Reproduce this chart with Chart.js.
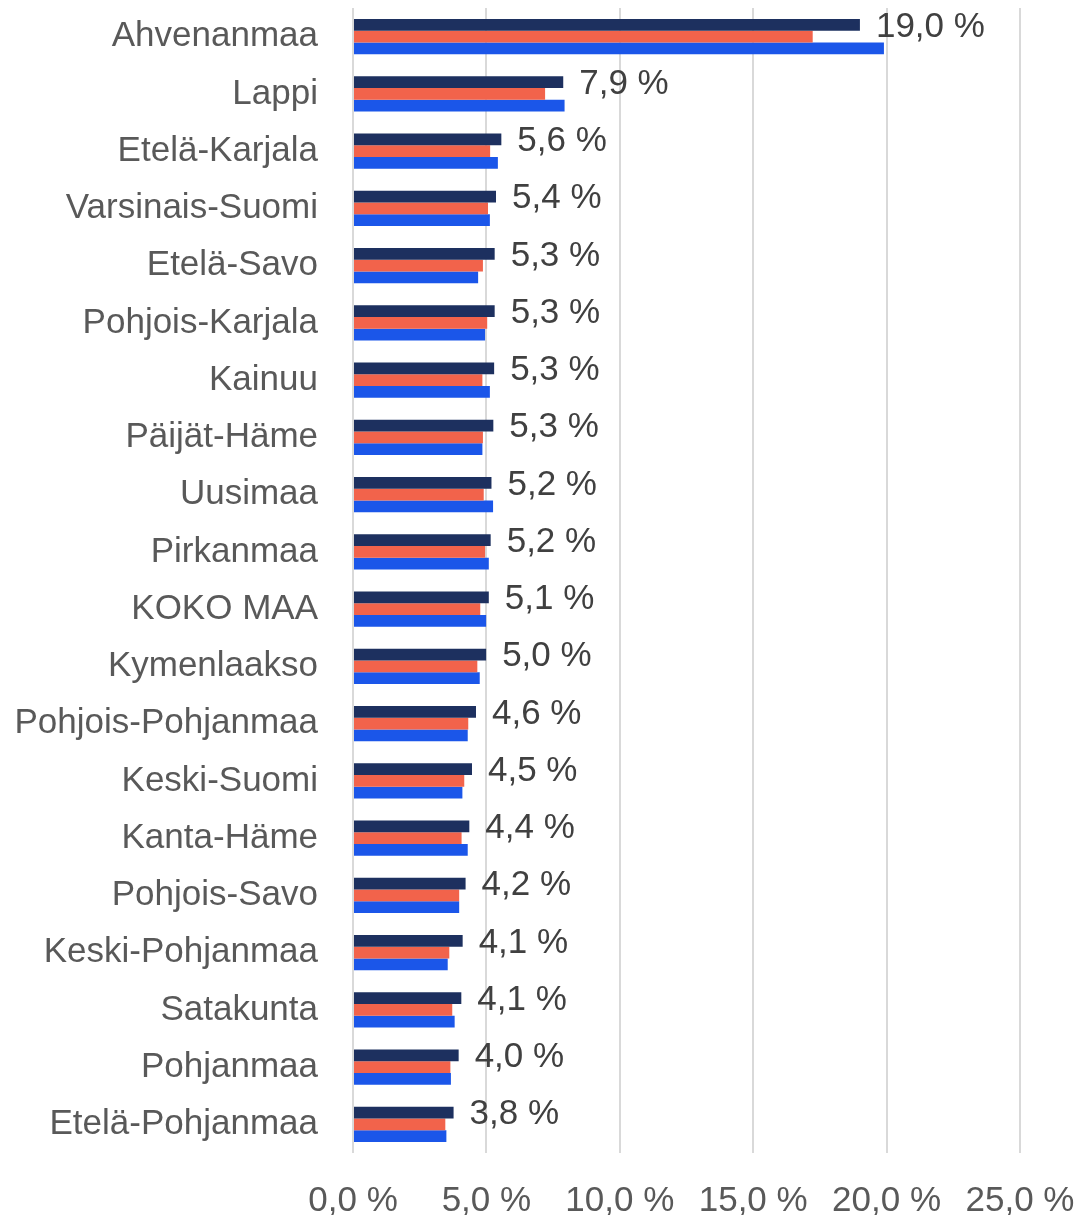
<!DOCTYPE html>
<html>
<head>
<meta charset="utf-8">
<script src="https://cdn.jsdelivr.net/npm/chart.js@4.4.1/dist/chart.umd.min.js"></script>
<style>
  html, body { margin: 0; padding: 0; background: #fff; }
  #wrap { width: 1081px; height: 1215px; }
</style>
</head>
<body>
<div id="wrap"><canvas id="barChart"></canvas></div>
<script>
// data
var regions = ['Ahvenanmaa', 'Lappi', 'Etelä-Karjala', 'Varsinais-Suomi', 'Etelä-Savo',
  'Pohjois-Karjala', 'Kainuu', 'Päijät-Häme', 'Uusimaa', 'Pirkanmaa', 'KOKO MAA',
  'Kymenlaakso', 'Pohjois-Pohjanmaa', 'Keski-Suomi', 'Kanta-Häme', 'Pohjois-Savo',
  'Keski-Pohjanmaa', 'Satakunta', 'Pohjanmaa', 'Etelä-Pohjanmaa'];
var series1 = [19.0, 7.88, 5.56, 5.36, 5.31, 5.31, 5.29, 5.26, 5.19, 5.16, 5.09,
  4.99, 4.61, 4.46, 4.36, 4.22, 4.11, 4.06, 3.96, 3.77];
var series2 = [17.23, 7.2, 5.14, 5.06, 4.87, 5.03, 4.85, 4.87, 4.90, 4.95, 4.77,
  4.66, 4.32, 4.17, 4.07, 3.98, 3.61, 3.72, 3.65, 3.46];
var series3 = [19.9, 7.93, 5.43, 5.13, 4.69, 4.95, 5.13, 4.85, 5.25, 5.09, 4.99,
  4.75, 4.30, 4.10, 4.30, 3.98, 3.55, 3.81, 3.67, 3.50];
var xTicks = [0, 5, 10, 15, 20, 25];

var FONT = '"Liberation Sans", Arial, sans-serif';

function pct(v) {
  return v.toFixed(1).replace('.', ',') + ' %';
}

// labels on the first series only
var valueLabels = {
  id: 'valueLabels',
  afterDatasetsDraw: function(chart) {
    var ctx = chart.ctx;
    var meta = chart.getDatasetMeta(0);
    ctx.save();
    ctx.font = '35px ' + FONT;
    ctx.fillStyle = '#404040';
    ctx.textAlign = 'left';
    ctx.textBaseline = 'middle';
    meta.data.forEach(function(bar, i) {
      ctx.fillText(pct(series1[i]), bar.x + 16, bar.y + 2);
    });
    ctx.restore();
  }
};

var chart = new Chart(document.getElementById('barChart'), {
  type: 'bar',
  data: {
    labels: regions,
    datasets: [
      { label: 'Sarja 1', data: series1, backgroundColor: '#1d305f' },
      { label: 'Sarja 2', data: series2, backgroundColor: '#f2634b' },
      { label: 'Sarja 3', data: series3, backgroundColor: '#1b56e9' }
    ]
  },
  options: {
    indexAxis: 'y',
    responsive: true,
    maintainAspectRatio: false,
    animation: false,
    datasets: {
      bar: { categoryPercentage: 0.615, barPercentage: 1.0, borderWidth: 0 }
    },
    layout: { padding: { top: 8, right: 61, left: 0, bottom: 0 } },
    plugins: {
      legend: { display: false },
      tooltip: { enabled: false }
    },
    scales: {
      x: {
        min: 0,
        max: 25,
        afterBuildTicks: function(s) {
          s.ticks = xTicks.map(function(v) { return { value: v }; });
        },
        afterFit: function(s) {
          s.height = 62;
          s.paddingLeft = 0;
          s.paddingRight = 0;
        },
        grid: { color: '#d9d9d9', lineWidth: 2, drawTicks: false },
        border: { display: false },
        ticks: {
          padding: 27,
          color: '#595959',
          font: { family: FONT, size: 35 },
          callback: function(v) { return pct(v); }
        }
      },
      y: {
        afterFit: function(s) {
          s.width = 353;
          s.paddingTop = 0;
          s.paddingBottom = 0;
        },
        grid: { display: false, drawTicks: false },
        border: { display: false },
        ticks: {
          padding: 35,
          color: '#595959',
          font: { family: FONT, size: 35 }
        }
      }
    }
  },
  plugins: [valueLabels]
});
</script>
</body>
</html>
